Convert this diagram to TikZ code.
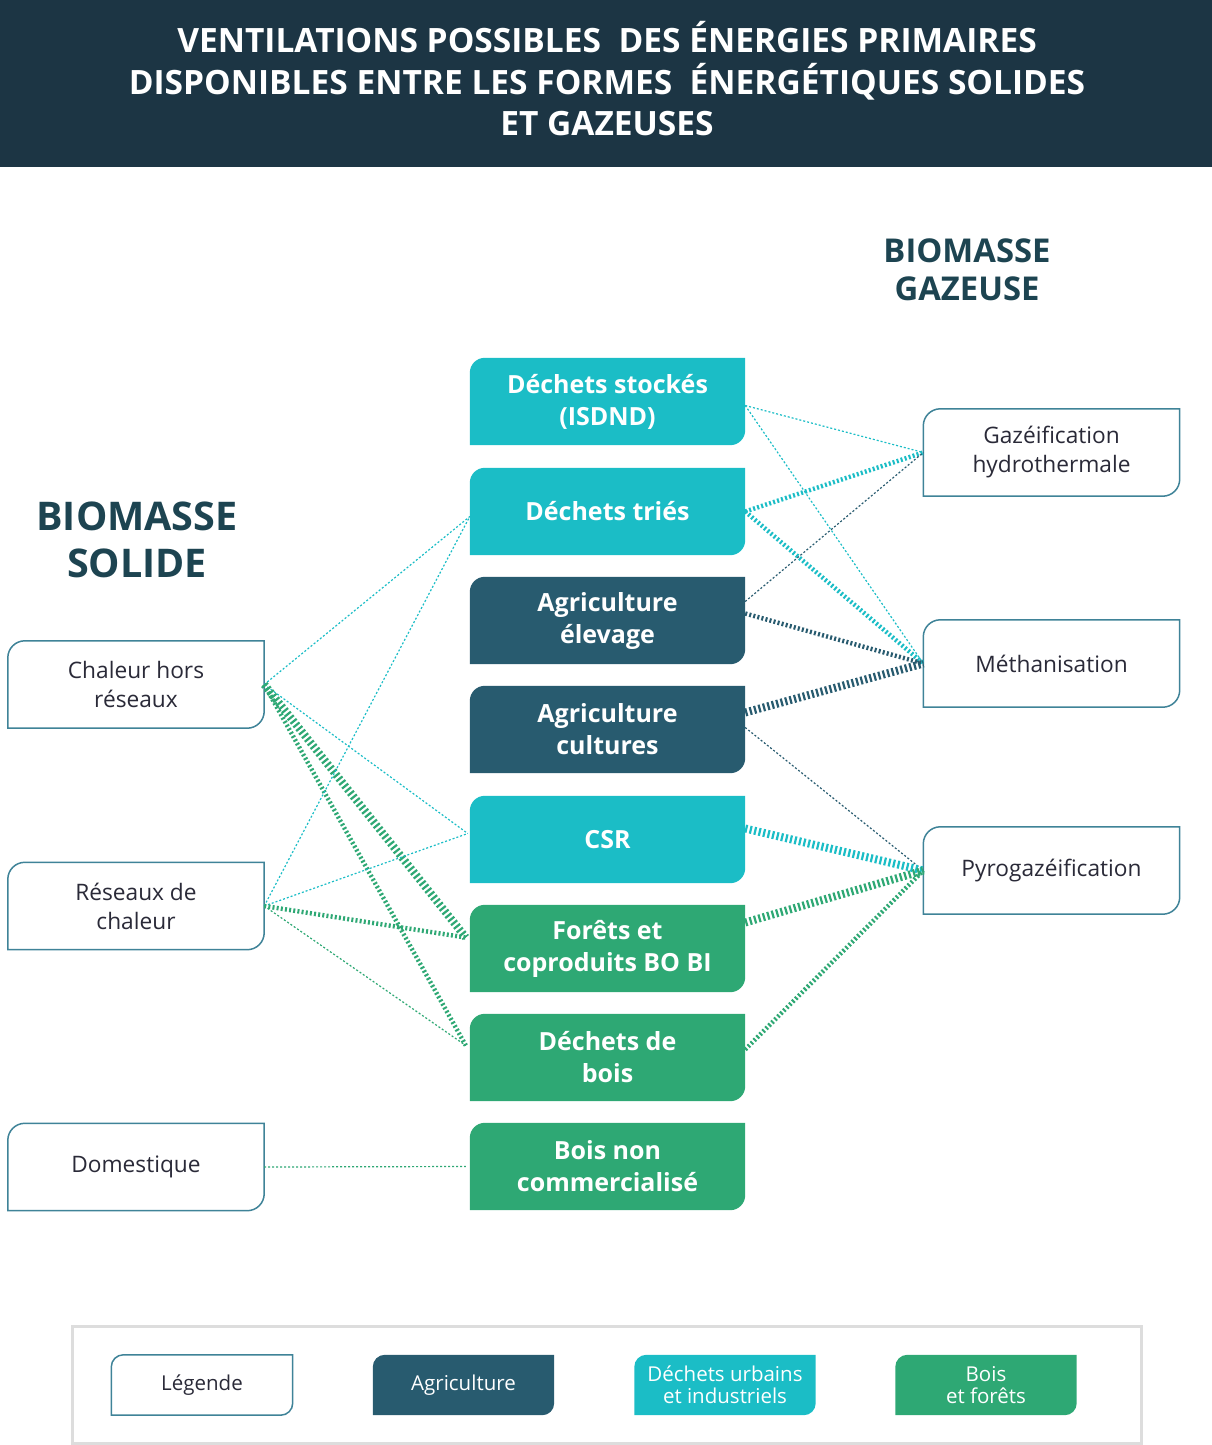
\documentclass[tikz,border=0pt]{standalone}
\usepackage{fontspec}
\setmainfont{Open Sans}
\usetikzlibrary{calc,backgrounds}
\definecolor{band}{HTML}{1C3544}
\definecolor{cyanb}{HTML}{1BBDC6}
\definecolor{agri}{HTML}{285B6F}
\definecolor{bois}{HTML}{2EA874}
\definecolor{head}{HTML}{1D4451}
\definecolor{edgec}{HTML}{3F8398}
\definecolor{txt}{HTML}{2A2A38}
\definecolor{framec}{HTML}{DDDDDD}
\newcommand\leafbox[3]{\path[#2] (#1.south west) -- ([yshift=-#3]#1.north west) arc[start angle=180,end angle=90,radius=#3] -- (#1.north east) -- ([yshift=#3]#1.south east) arc[start angle=0,end angle=-90,radius=#3] -- cycle;}
\tikzset{
  midbox/.style={minimum width=275pt, minimum height=87pt, inner sep=0pt, text=white, align=center, font=\bfseries\fontsize{25}{32}\selectfont},
  sidebox/.style={minimum width=256pt, minimum height=87pt, inner sep=0pt, text=txt, align=center, font=\fontsize{22.7}{29}\selectfont},
  legbox/.style={minimum width=181pt, minimum height=60pt, inner sep=0pt, align=center, font=\fontsize{20.5}{22}\selectfont},
  heading/.style={text=head, align=center, font=\bfseries},
  thinl/.style={line width=1.2pt, dash pattern=on 2pt off 2pt},
  medl/.style={line width=4.5pt, dash pattern=on 2pt off 2.2pt},
  thickl/.style={line width=8pt, dash pattern=on 2.2pt off 2.4pt},
  whitefill/.style={fill=white, draw=edgec, line width=1.5pt}
}
\begin{document}
\begin{tikzpicture}[x=1pt,y=-1pt]
\useasboundingbox (0,0) rectangle (1212,1445);
% title band
\fill[band] (0,0) rectangle (1212,167);
\node[text=white, align=center, font=\bfseries\fontsize{33.5}{41.5}\selectfont] (title) at (607,79)
  {VENTILATIONS POSSIBLES\ \ DES ÉNERGIES PRIMAIRES\\DISPONIBLES ENTRE LES FORMES\ \ ÉNERGÉTIQUES SOLIDES\\ET GAZEUSES};
% headings
\node[heading, font=\bfseries\fontsize{39.5}{47}\selectfont] (hsol) at (137,540) {BIOMASSE\\SOLIDE};
\node[heading, font=\bfseries\fontsize{32.8}{38}\selectfont] (hgaz) at (967,270) {BIOMASSE\\GAZEUSE};
% middle boxes
\node[midbox] (ds) at (607.5,401.5) {Déchets stockés\\(ISDND)};
\node[midbox] (dt) at (607.5,511.5) {Déchets triés};
\node[midbox] (el) at (607.5,620.5) {Agriculture\\élevage};
\node[midbox] (cu) at (607.5,729.5) {Agriculture\\cultures};
\node[midbox] (csr) at (607.5,839.5) {CSR};
\node[midbox] (fo) at (607.5,948.5) {Forêts et\\coproduits BO BI};
\node[midbox] (db) at (607.5,1057.5) {Déchets de\\bois};
\node[midbox] (bn) at (607.5,1166.5) {Bois non\\commercialisé};
% left boxes
\node[sidebox] (ch) at (136,684.5) {Chaleur hors\\réseaux};
\node[sidebox] (rc) at (136,906) {Réseaux de\\chaleur};
\node[sidebox] (do) at (136,1167) {Domestique};
% right boxes
\node[sidebox] (gh) at (1051.5,452.5) {Gazéification\\hydrothermale};
\node[sidebox] (me) at (1051.5,663.5) {Méthanisation};
\node[sidebox] (py) at (1051.5,870.5) {Pyrogazéification};
% legend
\draw[framec, line width=3pt] (72,1326) rectangle (1141,1443);
\node[legbox, text=txt] (l1) at (202,1385) {Légende};
\node[legbox, text=white] (l2) at (463.5,1385) {Agriculture};
\node[legbox, text=white] (l3) at (725,1385) {Déchets urbains\\et industriels};
\node[legbox, text=white] (l4) at (986,1385) {Bois\\et forêts};
\begin{scope}[on background layer]
  \foreach \n in {ds,dt,csr}{\leafbox{\n}{fill=cyanb}{15pt}}
  \foreach \n in {el,cu}{\leafbox{\n}{fill=agri}{15pt}}
  \foreach \n in {fo,db,bn}{\leafbox{\n}{fill=bois}{15pt}}
  \foreach \n in {ch,rc,do,gh,me,py}{\leafbox{\n}{whitefill}{17pt}}
  \leafbox{l1}{whitefill}{12pt}
  \leafbox{l2}{fill=agri}{12pt}
  \leafbox{l3}{fill=cyanb}{12pt}
  \leafbox{l4}{fill=bois}{12pt}
\end{scope}
% right connectors
\draw[thinl, cyanb] ($(ds.east)+(0,4)$) -- (gh.west);
\draw[thinl, cyanb] ($(ds.east)+(0,4)$) -- (me.west);
\draw[medl, cyanb] (dt.east) -- (gh.west);
\draw[medl, cyanb] (dt.east) -- (me.west);
\draw[thinl, agri] ($(el.east)+(0,-19)$) -- (gh.west);
\draw[medl, agri] ($(el.east)+(0,-7)$) -- (me.west);
\draw[thickl, agri] ($(cu.east)+(0,-17)$) -- (me.west);
\draw[thinl, agri] ($(cu.east)+(0,-2)$) -- (py.west);
\draw[thickl, cyanb] ($(csr.east)+(0,-11)$) -- (py.west);
\draw[thickl, bois] ($(fo.east)+(0,-26)$) -- (py.west);
\draw[medl, bois] ($(db.east)+(0,-8)$) -- (py.west);
% left connectors
\draw[thinl, cyanb] (ch.east) -- ($(dt.west)+(0,5)$);
\draw[thinl, cyanb] (ch.east) -- ($(csr.west)+(-2,-6)$);
\draw[thickl, bois] (ch.east) -- ($(fo.west)+(-4,-11)$);
\draw[medl, bois] (ch.east) -- ($(db.west)+(-4,-12)$);
\draw[thinl, cyanb] (rc.east) -- ($(dt.west)+(0,5)$);
\draw[thinl, cyanb] (rc.east) -- ($(csr.west)+(-2,-6)$);
\draw[medl, bois] (rc.east) -- ($(fo.west)+(-4,-11)$);
\draw[thinl, bois] (rc.east) -- ($(db.west)+(-4,-12)$);
\draw[thinl, bois] (do.east) -- ($(bn.west)+(-4,0)$);
\end{tikzpicture}
\end{document}
